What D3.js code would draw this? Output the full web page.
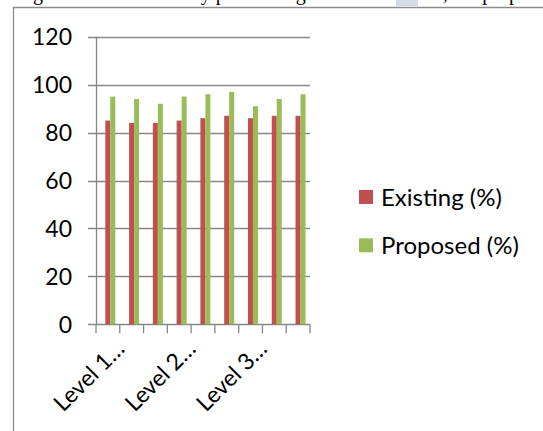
<!DOCTYPE html>
<html>
<head>
<meta charset="utf-8">
<script src="https://cdn.jsdelivr.net/npm/d3@7"></script>
<style>
  html, body { margin: 0; padding: 0; background: #fff; }
  svg { display: block; }
  text { font-family: Lato, "Open Sans", sans-serif; fill: #000; }
</style>
</head>
<body>
<svg id="chart" width="543" height="431"></svg>
<script>
// Category labels (long names are shown truncated, every third one on the axis)
const categories = ["Level 1…", "Level 1…", "Level 1…", "Level 2…", "Level 2…", "Level 2…", "Level 3…", "Level 3…", "Level 3…"];
const existing = [85, 84, 84, 85, 86, 87, 86, 87, 87];
const proposed = [95, 94, 92, 95, 96, 97, 91, 94, 96];
const seriesNames = ["Existing (%)", "Proposed (%)"];
const seriesColors = ["#C0504D", "#9BBB59"];
const yTicks = [0, 20, 40, 60, 80, 100, 120];
const bodyLine = "g in terms of accuracy performing the two methods, the proposed";

const svg = d3.select("#chart");
const gridColor = "#868686";

// Surrounding text line, running off the top edge of the page
svg.append("rect").attr("x", 396).attr("y", 0).attr("width", 22).attr("height", 6).attr("fill", "#d3dbe6");
svg.append("text")
  .attr("x", 33).attr("y", -0.5)
  .style("font-family", "'Liberation Serif', 'Times New Roman', serif")
  .style("font-size", "20px")
  .text(bodyLine);

// Chart frame
svg.append("path")
  .attr("d", "M13.5,431V7.5H543")
  .attr("fill", "none").attr("stroke", "#8c8c8c").attr("stroke-width", 1.3);

const x = d3.scaleBand().domain(d3.range(categories.length)).range([96, 310]).paddingInner(0).paddingOuter(0);
const y = d3.scaleLinear().domain([0, 120]).range([324.3, 36.7]);
const bw = x.bandwidth();
const xs = d3.scaleBand().domain([0, 1]).range([0, 10]);

// Horizontal gridlines (extend left as tick marks)
svg.append("g").selectAll("line").data(yTicks).join("line")
  .attr("x1", 88).attr("x2", 310)
  .attr("y1", d => Math.round(y(d)) + 0.5).attr("y2", d => Math.round(y(d)) + 0.5)
  .attr("stroke", gridColor).attr("stroke-width", 1.3);

// Vertical axis line
svg.append("line")
  .attr("x1", 96.5).attr("x2", 96.5)
  .attr("y1", y(120)).attr("y2", y(0))
  .attr("stroke", gridColor).attr("stroke-width", 1.3);

// Category tick marks at band edges
svg.append("g").selectAll("line").data(d3.range(categories.length + 1)).join("line")
  .attr("x1", i => (i < categories.length ? x(i) : x.range()[1]))
  .attr("x2", i => (i < categories.length ? x(i) : x.range()[1]))
  .attr("y1", y(0)).attr("y2", y(0) + 9)
  .attr("stroke", gridColor).attr("stroke-width", 1.3);

// Y tick labels
svg.append("g").selectAll("text").data(yTicks).join("text")
  .attr("x", 72).attr("y", d => y(d))
  .attr("dy", "0.36em")
  .attr("text-anchor", "end")
  .style("font-size", "23px")
  .text(d => d);

// Bars
const series = [existing, proposed];
const bars = svg.append("g");
series.forEach((vals, s) => {
  bars.append("g").selectAll("rect").data(vals).join("rect")
    .attr("x", (d, i) => x(i) + 9.3 + xs(s))
    .attr("width", xs.bandwidth())
    .attr("y", d => y(d))
    .attr("height", d => y(0) - y(d))
    .attr("fill", seriesColors[s]);
});

// Rotated category labels (every third category)
svg.append("g").selectAll("text")
  .data(categories.map((c, i) => ({ c, i })).filter(d => d.i % 3 === 0))
  .join("text")
  .attr("transform", d => `translate(${x(d.i) + bw / 2 + 18},${y(0) + 26}) rotate(-45)`)
  .attr("text-anchor", "end")
  .style("font-size", "23px")
  .text(d => d.c);

// Legend
const legend = svg.append("g").selectAll("g").data(seriesNames).join("g")
  .attr("transform", (d, i) => `translate(359,${190 + i * 48.3})`);
legend.append("rect").attr("width", 14).attr("height", 14).attr("fill", (d, i) => seriesColors[i]);
legend.append("text").attr("x", 22).attr("y", 16).style("font-size", "24px").text(d => d);
</script>
</body>
</html>
